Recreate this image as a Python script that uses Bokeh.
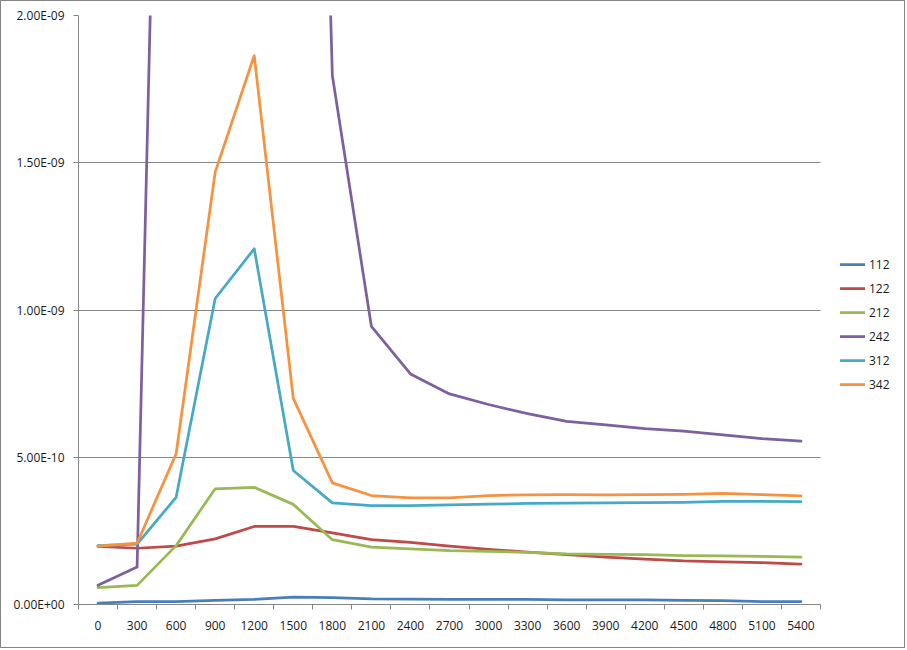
from bokeh.plotting import figure
from bokeh.models import (Range1d, FixedTicker, CustomJSTickFormatter, Legend, LegendItem, BoxAnnotation)
from bokeh.embed import file_html
from bokeh.resources import INLINE

categories = ["0", "300", "600", "900", "1200", "1500", "1800", "2100", "2400", "2700",
              "3000", "3300", "3600", "3900", "4200", "4500", "4800", "5100", "5400"]

s112 = [5e-12, 1.0e-11, 1.0e-11, 1.4e-11, 1.7e-11, 2.5e-11, 2.3e-11, 1.9e-11, 1.8e-11, 1.7e-11,
        1.7e-11, 1.7e-11, 1.6e-11, 1.6e-11, 1.6e-11, 1.4e-11, 1.3e-11, 1.0e-11, 1.0e-11]
s122 = [1.97e-10, 1.91e-10, 1.98e-10, 2.23e-10, 2.65e-10, 2.65e-10, 2.43e-10, 2.20e-10, 2.11e-10, 1.98e-10,
        1.87e-10, 1.78e-10, 1.69e-10, 1.61e-10, 1.54e-10, 1.48e-10, 1.45e-10, 1.42e-10, 1.37e-10]
s212 = [5.7e-11, 6.5e-11, 2.0e-10, 3.93e-10, 3.98e-10, 3.40e-10, 2.20e-10, 1.95e-10, 1.89e-10, 1.83e-10,
        1.80e-10, 1.77e-10, 1.72e-10, 1.70e-10, 1.69e-10, 1.66e-10, 1.65e-10, 1.63e-10, 1.61e-10]
s242 = [6.5e-11, 1.27e-10, 5.7e-9, 7.5e-9, 8.0e-9, 6.5e-9, 1.796e-9, 9.44e-10, 7.83e-10, 7.15e-10,
        6.79e-10, 6.48e-10, 6.22e-10, 6.10e-10, 5.97e-10, 5.89e-10, 5.76e-10, 5.63e-10, 5.55e-10]
s312 = [2.0e-10, 2.05e-10, 3.64e-10, 1.039e-9, 1.208e-9, 4.55e-10, 3.45e-10, 3.36e-10, 3.36e-10, 3.38e-10,
        3.41e-10, 3.43e-10, 3.44e-10, 3.45e-10, 3.46e-10, 3.47e-10, 3.50e-10, 3.50e-10, 3.49e-10]
s342 = [1.98e-10, 2.08e-10, 5.12e-10, 1.468e-9, 1.864e-9, 7.0e-10, 4.13e-10, 3.70e-10, 3.62e-10, 3.62e-10,
        3.70e-10, 3.72e-10, 3.73e-10, 3.72e-10, 3.73e-10, 3.74e-10, 3.77e-10, 3.73e-10, 3.69e-10]

series_names = ["112", "122", "212", "242", "312", "342"]
series_values = [s112, s122, s212, s242, s312, s342]
series_colors = ["#4A7EBB", "#BE4B48", "#98B954", "#7D60A0", "#46AAC5", "#F69240"]
y_ticks = [0, 5e-10, 1e-9, 1.5e-9, 2e-9]

FONT = "Open Sans"
GRID = "#868686"
TXT = "#1a1a1a"

W, H = 905, 648
LEFT, TOP, BOTTOM = 77, 14, 45
PLOT_W = 742            # width of the category area in px
FRAME_W = W - LEFT      # frame extends to the right edge so the legend can live inside it

n = len(categories)
xs = list(range(n))
x_end = -0.5 + n * FRAME_W / PLOT_W

p = figure(width=W, height=H, output_backend="svg", toolbar_location=None,
           x_range=Range1d(-0.5, x_end), y_range=Range1d(0, 2e-9),
           min_border_left=LEFT, min_border_right=0, min_border_top=TOP, min_border_bottom=BOTTOM)
p.styles = {"border": "1px solid #868686"}
p.outline_line_color = None
p.background_fill_color = "white"
p.border_fill_color = "white"

# x axis
xa = p.xaxis[0]
xa.bounds = (-0.5, n - 0.5)
xa.ticker = FixedTicker(ticks=xs, minor_ticks=[i - 0.5 for i in range(n + 1)])
xa.formatter = CustomJSTickFormatter(args=dict(labels=categories),
                                     code="const i = Math.round(tick); return (i >= 0 && i < labels.length) ? labels[i] : '';")
xa.major_tick_line_color = None
xa.major_tick_out = 0
xa.major_tick_in = 0
xa.minor_tick_line_color = GRID
xa.minor_tick_out = 5
xa.minor_tick_in = 0
xa.axis_line_color = GRID
xa.major_label_standoff = 11
xa.major_label_text_font = FONT
xa.major_label_text_font_size = "12px"
xa.major_label_text_color = TXT

# y axis
ya = p.yaxis[0]
ya.ticker = FixedTicker(ticks=y_ticks, minor_ticks=[])
ya.formatter = CustomJSTickFormatter(code="""
const s = tick.toExponential(2).toUpperCase();
const parts = s.split('E');
const e = parts[1];
const sign = e[0] === '-' ? '-' : '+';
let d = e.replace(/[+-]/, '');
if (d.length < 2) { d = '0' + d; }
return parts[0] + 'E' + sign + d;
""")
ya.axis_line_color = GRID
ya.major_tick_line_color = GRID
ya.major_tick_out = 5
ya.major_tick_in = 0
ya.major_label_standoff = 9
ya.major_label_text_font = FONT
ya.major_label_text_font_size = "12px"
ya.major_label_text_color = TXT

p.xgrid.grid_line_color = None
p.ygrid.grid_line_color = GRID
p.ygrid.ticker = FixedTicker(ticks=y_ticks)

# hide gridlines beyond the category area (legend zone)
p.add_layout(BoxAnnotation(left=n - 0.5, fill_color="white", fill_alpha=1.0,
                           line_color=None, level="underlay"))

items = []
for name, vals, col in zip(series_names, series_values, series_colors):
    r = p.line(xs, vals, line_color=col, line_width=2.75, line_join="round", line_cap="round")
    items.append(LegendItem(label=name, renderers=[r]))

legend = Legend(items=items, location=(762, 210), padding=0, margin=0,
                glyph_width=25, glyph_height=20, label_height=20, spacing=4,
                label_standoff=4, border_line_color=None, background_fill_alpha=0,
                label_text_font=FONT, label_text_font_size="12px", label_text_color=TXT)
p.add_layout(legend, "center")

open("out.html", "w").write(file_html(p, INLINE))
